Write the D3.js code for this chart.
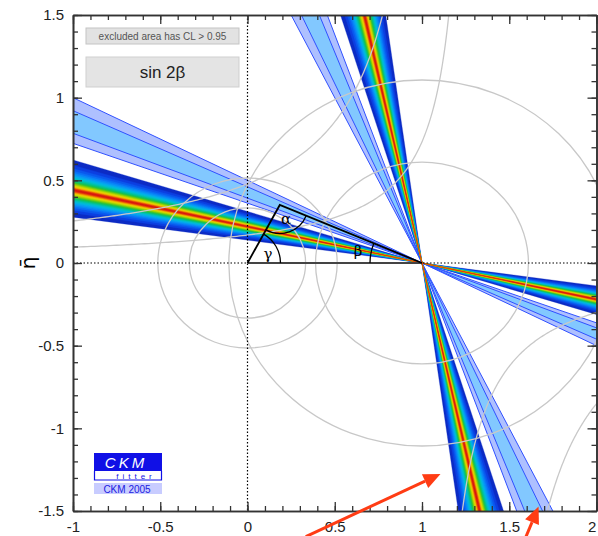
<!DOCTYPE html>
<html lang="en">
<head>
<meta charset="UTF-8" />
<title>CKMfitter - sin 2beta</title>
<script src="https://d3js.org/d3.v7.min.js"></script>
<style>
  html, body { margin: 0; background: #fff; }
  svg { display: block; font-family: "Liberation Sans", Arial, sans-serif; }
  .axis path { stroke: #333; stroke-width: 1.6px; fill: none; }
  .axis line { stroke: #333; stroke-width: 1.3px; }
  .axis text { font-size: 15px; fill: #222; font-family: "Liberation Sans", Arial, sans-serif; }
  .gray { fill: none; stroke: #c8c8c8; stroke-width: 1.3px; }
  .greek { font-family: "DejaVu Serif", "Liberation Serif", serif; font-size: 15px; fill: #000; }
</style>
</head>
<body>
<svg id="chart" width="598" height="536"></svg>
<script>
// ---------- data ----------
// sin 2beta measurement shown as the blue bands (centre, 1 sigma, 2 sigma half widths)
const blueSin2b = 0.72;
const blueHalfWidths = [0.08, 0.04];          // outer, inner
// sin 2beta hypothesis shown with CL colouring
const rainbowSin2b = 0.42;
const rainbowSigma = 0.0755;
const clLevels = [0.05, 0.10, 0.15, 0.20, 0.25, 0.30, 0.35, 0.40, 0.45, 0.50,
                  0.55, 0.60, 0.65, 0.70, 0.75, 0.80, 0.85, 0.90, 0.95];
// jet-like palette for 1-CL
const palStops  = [0.05, 0.12, 0.20, 0.30, 0.40, 0.50, 0.60, 0.70, 0.80, 0.88, 0.95, 1.0];
const palColors = ['#0c22b4', '#0c3ce0', '#0a64f5', '#0a96f8', '#00bce0', '#00c49a',
                   '#20c040', '#98d400', '#f0dc00', '#f08c00', '#e02010', '#d01010'];
// grey background constraints
const dmdRadii = [0.61, 1.107];               // circles around (1,0)
const vubRadii = [0.333, 0.514];              // circles around (0,0)
const epsKrho0 = [1.30, 1.136, 1.039, 1.35];  // hyperbolas eta = k/(rho0-rho)
const epsKk    = [0.22, 0.543, 0.288, 0.553];
const epsKside = [-1, -1, 1, 1];              // branch: left (-1) or right (+1) of rho0
// unitarity triangle apex
const apex = [0.185, 0.351];
// axes
const xMajor = [-1, -0.5, 0, 0.5, 1, 1.5, 2];
const yMajor = [-1.5, -1, -0.5, 0, 0.5, 1, 1.5];
// annotation arrows [tail, tip] in (rho, eta)
const arrows = [
  [[0.334, -1.655], [1.106, -1.276]],
  [[1.596, -1.655], [1.668, -1.473]]
];

// ---------- setup ----------
const svg = d3.select('#chart');
const x = d3.scaleLinear().domain([-1, 2]).range([73, 596.5]);
const y = d3.scaleLinear().domain([-1.5, 1.5]).range([511, 15]);

svg.append('defs').append('clipPath').attr('id', 'plotclip')
  .append('rect')
  .attr('x', x(-1)).attr('y', y(1.5))
  .attr('width', x(2) - x(-1)).attr('height', y(-1.5) - y(1.5));

const plot = svg.append('g').attr('clip-path', 'url(#plotclip)');
const poly = d3.line().x(d => x(d[0])).y(d => y(d[1]));

// erf approximation (Abramowitz-Stegun 7.1.26)
function erf(v) {
  const t = 1 / (1 + 0.3275911 * v);
  const p = t * (0.254829592 + t * (-0.284496736 + t * (1.421413741 + t * (-1.453152027 + t * 1.061405429))));
  return 1 - p * Math.exp(-v * v);
}
// number of sigma giving a two-sided p-value
function zOf(pv) {
  let lo = 0, hi = 8;
  for (let i = 0; i < 60; i++) {
    const mid = (lo + hi) / 2;
    if (1 - erf(mid / Math.SQRT2) > pv) lo = mid; else hi = mid;
  }
  return (lo + hi) / 2;
}

// wedge through (1,0); beta measured from the negative rho direction
function wedge(b1, b2, sg) {
  const R = 8 * sg;
  return [[1, 0], [1 - R * Math.cos(b1), R * Math.sin(b1)], [1 - R * Math.cos(b2), R * Math.sin(b2)]];
}
function bandPolys(s0, h) {
  const lo = Math.max(s0 - h, -1), hi = Math.min(s0 + h, 1);
  const a = Math.asin(lo) / 2, b = Math.asin(hi) / 2;
  const out = [];
  for (const sg of [1, -1]) {
    out.push(wedge(a, b, sg));
    out.push(wedge(Math.PI / 2 - b, Math.PI / 2 - a, sg));
  }
  return out;
}

// ---------- blue bands ----------
const blueFill = ['#aec0ff', '#82c8ff'];
blueHalfWidths.forEach((h, i) => {
  plot.append('g').selectAll('path')
    .data(bandPolys(blueSin2b, h))
    .enter().append('path')
      .attr('d', d => poly(d) + 'Z')
      .attr('fill', blueFill[i])
      .attr('stroke', '#3050ff')
      .attr('stroke-width', 1)
      .attr('stroke-linejoin', 'round');
});

// ---------- CL coloured bands ----------
const pal = d3.scaleLinear().domain(palStops).range(palColors).interpolate(d3.interpolateRgb).clamp(true);
const rainbow = plot.append('g');
clLevels.forEach((pv, i) => {
  const next = i + 1 < clLevels.length ? clLevels[i + 1] : 1;
  const col = pal((pv + next) / 2);
  rainbow.append('g').selectAll('path')
    .data(bandPolys(rainbowSin2b, zOf(pv) * rainbowSigma))
    .enter().append('path')
      .attr('d', d => poly(d) + 'Z')
      .attr('fill', col)
      .attr('stroke', col)
      .attr('stroke-width', 0.3);
});

// ---------- grey constraints ----------
const grey = plot.append('g');
dmdRadii.forEach(r => {
  grey.append('ellipse').attr('class', 'gray')
    .attr('cx', x(1)).attr('cy', y(0))
    .attr('rx', x(r) - x(0)).attr('ry', y(0) - y(r));
});
vubRadii.forEach(r => {
  grey.append('ellipse').attr('class', 'gray')
    .attr('cx', x(0)).attr('cy', y(0))
    .attr('rx', x(r) - x(0)).attr('ry', y(0) - y(r));
});
epsKrho0.forEach((r0, i) => {
  const k = epsKk[i], side = epsKside[i];
  const near = r0 + side * k / 1.7;
  const far = side < 0 ? -1.05 : 2.05;
  const pts = d3.range(0, 1.0001, 0.005).map(t => {
    const rho = near + (far - near) * t * t;
    return [rho, k / (r0 - rho)];
  });
  grey.append('path').attr('class', 'gray')
    .attr('d', d3.line().x(d => x(d[0])).y(d => y(d[1])).curve(d3.curveLinear)(pts));
});

// ---------- dotted axes ----------
plot.append('line')
  .attr('x1', x(0)).attr('x2', x(0)).attr('y1', y(1.5)).attr('y2', y(-1.5))
  .attr('stroke', '#000').attr('stroke-width', 1.2).attr('stroke-dasharray', '1.5,2');
plot.append('line')
  .attr('x1', x(-1)).attr('x2', x(2)).attr('y1', y(0)).attr('y2', y(0))
  .attr('stroke', '#000').attr('stroke-width', 1.2).attr('stroke-dasharray', '1.5,2');

// ---------- unitarity triangle ----------
const tri = svg.append('g');
tri.append('line')
  .attr('x1', x(0)).attr('y1', y(0)).attr('x2', x(1)).attr('y2', y(0))
  .attr('stroke', '#444').attr('stroke-width', 2.2);
tri.append('path')
  .attr('d', poly([[0, 0], apex, [1, 0]]))
  .attr('fill', 'none').attr('stroke', '#000').attr('stroke-width', 1.8)
  .attr('stroke-linejoin', 'miter');

const ax = x(apex[0]), ay = y(apex[1]);
const ang = (x1, y1, x2, y2) => Math.atan2(y2 - y1, x2 - x1);
function arcPath(cx, cy, r, a0, a1, ccw) {
  const p = d3.path();
  p.moveTo(cx + r * Math.cos(a0), cy + r * Math.sin(a0));
  p.arc(cx, cy, r, a0, a1, ccw);
  return p.toString();
}
// gamma at origin
tri.append('path').attr('fill', 'none').attr('stroke', '#000').attr('stroke-width', 1.3)
  .attr('d', arcPath(x(0), y(0), 33, 0, ang(x(0), y(0), ax, ay), true));
// alpha at apex
tri.append('path').attr('fill', 'none').attr('stroke', '#000').attr('stroke-width', 1.3)
  .attr('d', arcPath(ax, ay, 28.5, ang(ax, ay, x(0), y(0)), ang(ax, ay, x(1), y(0)), true));
// beta at (1,0)
tri.append('path').attr('fill', 'none').attr('stroke', '#000').attr('stroke-width', 1.3)
  .attr('d', arcPath(x(1), y(0), 52, Math.PI, ang(x(1), y(0), ax, ay), false));

tri.append('text').attr('class', 'greek').attr('x', 268).attr('y', 259).attr('text-anchor', 'middle').text('γ');
tri.append('text').attr('class', 'greek').attr('x', 286).attr('y', 224).attr('text-anchor', 'middle').text('α');
tri.append('text').attr('class', 'greek').attr('x', 358).attr('y', 256).attr('text-anchor', 'middle').text('β');

// ---------- axes ----------
const fmt = d => String(d);
const minorX = d3.range(-10, 21).map(i => i / 10);
const minorY = d3.range(-15, 16).map(i => i / 10);

svg.append('g').attr('class', 'axis').attr('transform', `translate(0,${y(-1.5)})`)
  .call(d3.axisBottom(x).tickValues(minorX).tickSize(-5).tickSizeOuter(0).tickFormat(''));
const xAxisG = svg.append('g').attr('class', 'axis').attr('transform', `translate(0,${y(-1.5)})`)
  .call(d3.axisBottom(x).tickValues(xMajor).tickSize(-9).tickSizeOuter(0).tickPadding(10).tickFormat(fmt));
// keep the last label inside the window
xAxisG.selectAll('.tick text').filter(d => d === 2).attr('text-anchor', 'end').attr('dx', '-0.05em');
svg.append('g').attr('class', 'axis').attr('transform', `translate(0,${y(1.5)})`)
  .call(d3.axisTop(x).tickValues(minorX).tickSize(-5).tickSizeOuter(0).tickFormat(''));
svg.append('g').attr('class', 'axis').attr('transform', `translate(0,${y(1.5)})`)
  .call(d3.axisTop(x).tickValues(xMajor).tickSize(-9).tickSizeOuter(0).tickFormat(''));

svg.append('g').attr('class', 'axis').attr('transform', `translate(${x(-1)},0)`)
  .call(d3.axisLeft(y).tickValues(minorY).tickSize(-5).tickSizeOuter(0).tickFormat(''));
svg.append('g').attr('class', 'axis').attr('transform', `translate(${x(-1)},0)`)
  .call(d3.axisLeft(y).tickValues(yMajor).tickSize(-9).tickSizeOuter(0).tickPadding(9).tickFormat(fmt));
svg.append('g').attr('class', 'axis').attr('transform', `translate(${x(2)},0)`)
  .call(d3.axisRight(y).tickValues(minorY).tickSize(-5).tickSizeOuter(0).tickFormat(''));
svg.append('g').attr('class', 'axis').attr('transform', `translate(${x(2)},0)`)
  .call(d3.axisRight(y).tickValues(yMajor).tickSize(-9).tickSizeOuter(0).tickFormat(''));

// y label (eta bar)
svg.append('text')
  .attr('transform', `translate(35,${y(0)}) rotate(-90)`)
  .attr('text-anchor', 'middle')
  .style('font-family', '"DejaVu Sans", sans-serif')
  .style('font-size', '20px')
  .text('η\u0304');

// ---------- info boxes ----------
svg.append('rect').attr('x', 86).attr('y', 28).attr('width', 153).attr('height', 16)
  .attr('fill', '#e2e2e2').attr('stroke', '#c4c4c4');
svg.append('text').attr('x', 162.5).attr('y', 39.5).attr('text-anchor', 'middle')
  .style('font-size', '10px').style('fill', '#555')
  .text('excluded area has CL > 0.95');
svg.append('rect').attr('x', 86).attr('y', 57).attr('width', 153).attr('height', 30)
  .attr('fill', '#e4e4e4').attr('stroke', '#cfcfcf');
svg.append('text').attr('x', 162.5).attr('y', 78).attr('text-anchor', 'middle')
  .style('font-size', '17px').style('fill', '#222')
  .text('sin 2β');

// ---------- CKMfitter logo ----------
const logo = svg.append('g');
logo.append('rect').attr('x', 94).attr('y', 453).attr('width', 68).attr('height', 18).attr('fill', '#1010e6');
logo.append('text').attr('x', 126).attr('y', 468).attr('text-anchor', 'middle')
  .style('font-size', '15px').style('font-style', 'italic').style('fill', '#fff')
  .style('letter-spacing', '3px').text('CKM');
logo.append('path').attr('d', 'M94.5,471 V480 H161.5 V471')
  .attr('fill', 'none').attr('stroke', '#1010e6').attr('stroke-width', 1.2);
logo.append('text').attr('x', 136).attr('y', 478.5).attr('text-anchor', 'middle')
  .style('font-size', '8px').style('fill', '#1010e6').style('letter-spacing', '4px').text('fitter');
logo.append('rect').attr('x', 94).attr('y', 483).attr('width', 68).attr('height', 11).attr('fill', '#c8ccff');
logo.append('text').attr('x', 127).attr('y', 492.5).attr('text-anchor', 'middle')
  .style('font-size', '10px').style('fill', '#2020e0').text('CKM 2005');

// ---------- arrows ----------
const arrowCol = '#ff3c14';
arrows.forEach(([t, h]) => {
  const x0 = x(t[0]), y0 = y(t[1]), x1 = x(h[0]), y1 = y(h[1]);
  const a = Math.atan2(y1 - y0, x1 - x0), L = 17, W = 7.5;
  const bx = x1 - L * Math.cos(a), by = y1 - L * Math.sin(a);
  svg.append('line').attr('x1', x0).attr('y1', y0).attr('x2', bx).attr('y2', by)
    .attr('stroke', arrowCol).attr('stroke-width', 3);
  svg.append('path')
    .attr('d', `M${x1},${y1} L${bx + W * Math.sin(a)},${by - W * Math.cos(a)} L${bx - W * Math.sin(a)},${by + W * Math.cos(a)} Z`)
    .attr('fill', arrowCol);
});
</script>
</body>
</html>
